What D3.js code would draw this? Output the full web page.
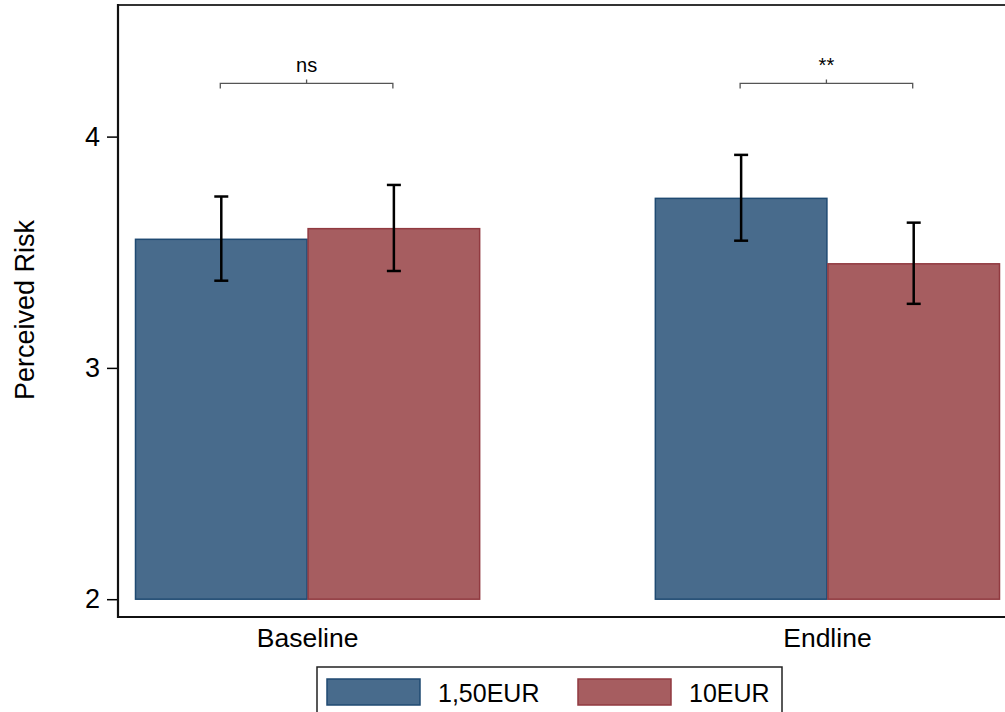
<!DOCTYPE html>
<html>
<head>
<meta charset="utf-8">
<script src="https://cdn.jsdelivr.net/npm/d3@7"></script>
<style>
  html, body { margin: 0; padding: 0; background: #fff; overflow: hidden; }
  svg { display: block; font-family: "Liberation Sans", Arial, sans-serif; }
</style>
</head>
<body>
<svg id="chart" width="1005" height="712"></svg>
<script>
// ---- data ----
const categories = ["Baseline", "Endline"];
const seriesNames = ["1,50EUR", "10EUR"];
const seriesColors = ["#486b8c", "#a65d60"];
const seriesStroke = ["#1f4a72", "#913a40"];
const meanLow = [3.556, 3.733];   // 1,50EUR
const ciLowLow = [3.377, 3.550];
const ciHighLow = [3.741, 3.921];
const meanHigh = [3.602, 3.450];  // 10EUR
const ciLowHigh = [3.419, 3.277];
const ciHighHigh = [3.791, 3.628];
const sigLabels = ["ns", "**"];
const bracketLevel = 4.23;
const yTicks = [2, 3, 4];
const yDomain = [1.923, 4.569];
const baseValue = 2;

(function () {
const svg = d3.select("#chart");
const W = 1005;
const mLeft = 118, mRight = 1017, mTop = 5, mBottom = 617;

const y = d3.scaleLinear().domain(yDomain).range([mBottom, mTop]);
const x0 = d3.scaleBand().domain(categories).range([mLeft, mRight])
  .paddingInner(0.336).paddingOuter(0.0327);
const x1 = d3.scaleBand().domain(seriesNames).range([0, x0.bandwidth()]).padding(0);

const rows = categories.map((c, i) => ({
  cat: c,
  vals: [
    { s: seriesNames[0], k: 0, m: meanLow[i], lo: ciLowLow[i], hi: ciHighLow[i] },
    { s: seriesNames[1], k: 1, m: meanHigh[i], lo: ciLowHigh[i], hi: ciHighHigh[i] }
  ],
  sig: sigLabels[i]
}));

// frame top
svg.append("line").attr("x1", mLeft).attr("x2", W + 20).attr("y1", mTop).attr("y2", mTop)
  .attr("stroke", "#333").attr("stroke-width", 2);

// bars
const g = svg.selectAll("g.grp").data(rows).join("g")
  .attr("class", "grp")
  .attr("transform", d => `translate(${x0(d.cat)},0)`);

g.selectAll("rect").data(d => d.vals).join("rect")
  .attr("x", d => x1(d.s) + 0.5)
  .attr("width", x1.bandwidth() - 1)
  .attr("y", d => y(d.m))
  .attr("height", d => y(baseValue) - y(d.m))
  .attr("fill", d => seriesColors[d.k])
  .attr("stroke", d => seriesStroke[d.k])
  .attr("stroke-width", 1.5);

// error bars
const eb = g.selectAll("g.eb").data(d => d.vals).join("g").attr("class", "eb")
  .attr("stroke", "#000").attr("stroke-width", 2.5);
const cx = d => x1(d.s) + x1.bandwidth() / 2;
eb.append("line").attr("x1", cx).attr("x2", cx)
  .attr("y1", d => y(d.lo)).attr("y2", d => y(d.hi));
eb.append("line").attr("x1", d => cx(d) - 7).attr("x2", d => cx(d) + 7)
  .attr("y1", d => y(d.hi)).attr("y2", d => y(d.hi));
eb.append("line").attr("x1", d => cx(d) - 7).attr("x2", d => cx(d) + 7)
  .attr("y1", d => y(d.lo)).attr("y2", d => y(d.lo));

// significance brackets
const br = g.append("g");
br.append("path")
  .attr("d", d => {
    const a = x1(seriesNames[0]) + x1.bandwidth() / 2 - 1;
    const b = x1(seriesNames[1]) + x1.bandwidth() / 2 - 1;
    const yy = y(bracketLevel);
    const mid = (a + b) / 2;
    return `M${a},${yy + 5}V${yy}H${b}V${yy + 5}M${mid},${yy}V${yy - 4}`;
  })
  .attr("fill", "none").attr("stroke", "#555").attr("stroke-width", 1.3);
br.append("text")
  .attr("x", x0.bandwidth() / 2 - 1)
  .attr("y", y(bracketLevel) - 11)
  .attr("text-anchor", "middle")
  .attr("font-size", 20)
  .attr("fill", "#000")
  .text(d => d.sig);

// y axis
const yAxis = svg.append("g").attr("transform", `translate(${mLeft},0)`)
  .call(d3.axisLeft(y).tickValues(yTicks).tickSize(11).tickPadding(7).tickFormat(d3.format("d")));
yAxis.select(".domain").remove();
yAxis.selectAll(".tick line").attr("stroke", "#000").attr("stroke-width", 1.5);
yAxis.selectAll(".tick text").attr("font-size", 27).attr("fill", "#000")
  .attr("font-family", "Liberation Sans, Arial, sans-serif");
svg.append("line").attr("x1", mLeft).attr("x2", mLeft).attr("y1", mTop - 1).attr("y2", mBottom + 1)
  .attr("stroke", "#111").attr("stroke-width", 2.2);

// x axis
const xAxis = svg.append("g").attr("transform", `translate(0,${mBottom})`)
  .call(d3.axisBottom(x0).tickSize(0).tickPadding(11));
xAxis.select(".domain").remove();
xAxis.selectAll(".tick text").attr("font-size", 26.5).attr("fill", "#000")
  .attr("font-family", "Liberation Sans, Arial, sans-serif");
svg.append("line").attr("x1", mLeft - 1).attr("x2", W + 20).attr("y1", mBottom).attr("y2", mBottom)
  .attr("stroke", "#111").attr("stroke-width", 2.2);

// y title
svg.append("text")
  .attr("transform", `translate(34,${(mTop + mBottom) / 2 - 1}) rotate(-90)`)
  .attr("text-anchor", "middle")
  .attr("font-size", 27)
  .attr("fill", "#000")
  .text("Perceived Risk");

// legend
const leg = svg.append("g");
leg.append("rect").attr("x", 317).attr("y", 667).attr("width", 465).attr("height", 70)
  .attr("fill", "#fff").attr("stroke", "#222").attr("stroke-width", 1.5);
const legX = [327, 578];
const li = leg.selectAll("g.li").data(seriesNames).join("g").attr("class", "li")
  .attr("transform", (d, i) => `translate(${legX[i]},679)`);
li.append("rect").attr("width", 93).attr("height", 26)
  .attr("fill", (d, i) => seriesColors[i]).attr("stroke", (d, i) => seriesStroke[i]).attr("stroke-width", 1.5);
li.append("text").attr("x", 111).attr("y", 23).attr("font-size", 25).attr("fill", "#000").text(d => d);
})();
</script>
</body>
</html>
